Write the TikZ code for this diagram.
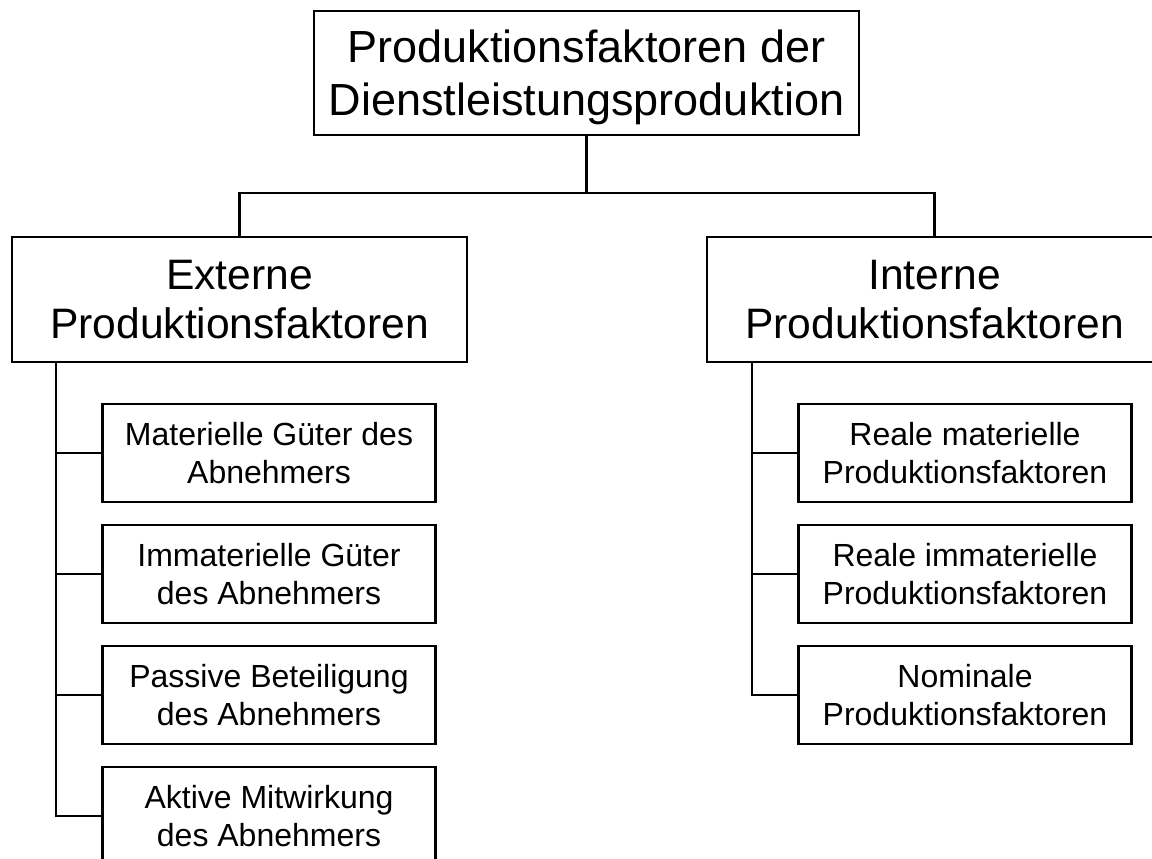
\documentclass[tikz,border=0pt]{standalone}
\usepackage{fontspec}
\setmainfont{Liberation Sans}
\begin{document}
\begin{tikzpicture}[x=1pt, y=-1pt,
  box/.style={draw, line width=2.3pt, rectangle, align=center, inner sep=0pt, fill=white},
  rootbox/.style={box, minimum width=545pt, minimum height=124pt, text depth=0pt,
    font=\fontsize{45}{53}\selectfont},
  groupbox/.style={box, minimum width=455pt, minimum height=125pt,
    font=\fontsize{42.6}{49}\selectfont},
  leafbox/.style={box, minimum width=333pt, minimum height=98pt,
    font=\fontsize{32}{38}\selectfont},
  link/.style={line width=2.3pt}
]
\useasboundingbox (0,0) rectangle (1152,859);
\clip (0,0) rectangle (1152,859);
\fill[white] (0,0) rectangle (1152,859);

% root and the two groups
\node[rootbox] (root) at (586.5,73) {Produktionsfaktoren der\\Dienstleistungsproduktion};
\node[groupbox] (ext) at (239.5,299.5) {Externe\\Produktionsfaktoren};
\node[groupbox] (int) at (934.5,299.5) {Interne\\Produktionsfaktoren};

% external factors
\node[leafbox] (e1) at (269,453) {Materielle Güter des\\Abnehmers};
\node[leafbox] (e2) at (269,574) {Immaterielle Güter\\des Abnehmers};
\node[leafbox] (e3) at (269,695) {Passive Beteiligung\\des Abnehmers};
\node[leafbox] (e4) at (269,816) {Aktive Mitwirkung\\des Abnehmers};

% internal factors
\node[leafbox] (i1) at (965,453) {Reale materielle\\Produktionsfaktoren};
\node[leafbox] (i2) at (965,574) {Reale immaterielle\\Produktionsfaktoren};
\node[leafbox] (i3) at (965,695) {Nominale\\Produktionsfaktoren};

% root to groups
\draw[link] (root.south) -- ++(0,57) -| (ext.north);
\draw[link] (root.south) -- ++(0,57) -| (int.north);

% group stems to leaves
\foreach \n in {e1,e2,e3,e4}
  \draw[link] ([xshift=45pt]ext.south west) |- (\n.west);
\foreach \n in {i1,i2,i3}
  \draw[link] ([xshift=46pt]int.south west) |- (\n.west);
\end{tikzpicture}
\end{document}
